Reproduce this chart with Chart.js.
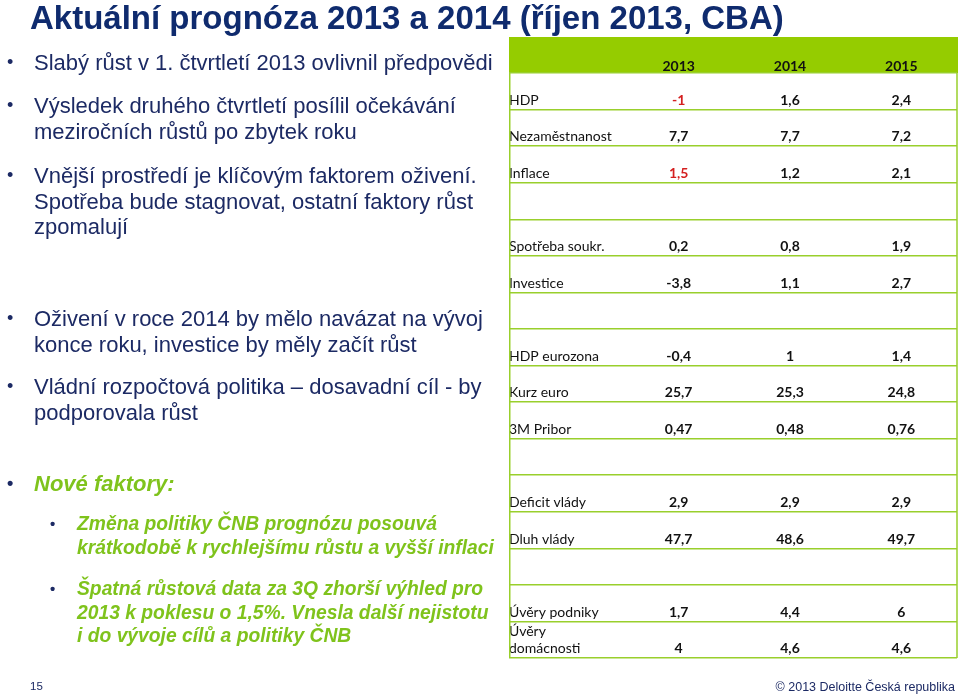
<!DOCTYPE html>
<html lang="cs">
<head>
<meta charset="utf-8">
<script src="https://cdn.jsdelivr.net/npm/chart.js@4"></script>
<style>
  html, body { margin: 0; padding: 0; background: #fff; }
  body { width: 960px; height: 694px; position: relative; overflow: hidden; font-family: "Liberation Sans", Arial, sans-serif; }
  #table { position: absolute; left: 0; top: 0; }
  .title { position: absolute; left: 30px; top: 1px; font-weight: bold; font-size: 33px; line-height: 33px; color: #0f2b6e; white-space: nowrap; }
  .p { position: absolute; left: 34px; font-size: 22px; line-height: 25.5px; color: #1c2a64; white-space: nowrap; }
  .p::before { content: '\2022'; position: absolute; left: -27px; font-size: 18px; font-style: normal; color: #1c2a64; }
  .g { color: #7fc31c; font-weight: bold; font-style: italic; }
  .sub { left: 77px; font-size: 19.3px; line-height: 23.5px; }
  .sub::before { left: -27px; color: #1c2a64; font-size: 15px; }
  .foot { position: absolute; top: 680px; font-size: 11.5px; color: #1c2a64; white-space: nowrap; }
</style>
</head>
<body>
<canvas id="table" width="960" height="694"></canvas>

<div class="title">Aktuální prognóza 2013 a 2014 (říjen 2013, CBA)</div>

<div class="p" style="top:50px">Slabý růst v 1. čtvrtletí 2013 ovlivnil předpovědi</div>
<div class="p" style="top:93px">Výsledek druhého čtvrtletí posílil očekávání<br>meziročních růstů po zbytek roku</div>
<div class="p" style="top:163px">Vnější prostředí je klíčovým faktorem oživení.<br>Spotřeba bude stagnovat, ostatní faktory růst<br>zpomalují</div>
<div class="p" style="top:306px">Oživení v roce 2014 by mělo navázat na vývoj<br>konce roku, investice by měly začít růst</div>
<div class="p" style="top:374px">Vládní rozpočtová politika – dosavadní cíl - by<br>podporovala růst</div>

<div class="p g" style="top:471px">Nové faktory:</div>
<div class="p g sub" style="top:512px">Změna politiky ČNB prognózu posouvá<br>krátkodobě k rychlejšímu růstu a vyšší inflaci</div>
<div class="p g sub" style="top:577px">Špatná růstová data za 3Q zhorší výhled pro<br>2013 k poklesu o 1,5%. Vnesla další nejistotu<br>i do vývoje cílů a politiky ČNB</div>

<div class="foot" style="left:30px">15</div>
<div class="foot" style="right:5px; font-size:12.5px">© 2013 Deloitte Česká republika</div>

<script>
// Forecast table (CBA, October 2013)
const years = ['2013', '2014', '2015'];
const rowLabels = [
  'HDP', 'Nezaměstnanost', 'Inflace', '',
  'Spotřeba soukr.', 'Investice', '',
  'HDP eurozona', 'Kurz euro', '3M Pribor', '',
  'Deficit vlády', 'Dluh vlády', '',
  'Úvěry podniky', ['Úvěry', 'domácnosti', '']
];
const values2013 = [-1, 7.7, 1.5, null, 0.2, -3.8, null, -0.4, 25.7, 0.47, null, 2.9, 47.7, null, 1.7, 4];
const values2014 = [1.6, 7.7, 1.2, null, 0.8, 1.1, null, 1, 25.3, 0.48, null, 2.9, 48.6, null, 4.4, 4.6];
const values2015 = [2.4, 7.2, 2.1, null, 1.9, 2.7, null, 1.4, 24.8, 0.76, null, 2.9, 49.7, null, 6, 4.6];
// cells printed in red (2013 column)
const redRows2013 = ['HDP', 'Inflace'];

const GREEN = '#99cf2c';
const HEADER_GREEN = '#95cc00';
const fontFamily = "Lato, 'Open Sans', sans-serif";

const columns = [values2013, values2014, values2015];

// Czech decimal comma
function fmt(v) {
  return String(v).replace('.', ',');
}

const tablePlugin = {
  id: 'tablePlugin',
  beforeDraw(chart) {
    const { ctx, chartArea, scales } = chart;
    ctx.save();
    ctx.fillStyle = HEADER_GREEN;
    ctx.fillRect(scales.y.left, scales.x.top, chartArea.right + 1 - scales.y.left, scales.x.bottom - scales.x.top);
    ctx.restore();
  },
  afterDatasetsDraw(chart) {
    const { ctx, chartArea, scales } = chart;
    ctx.save();
    ctx.textAlign = 'center';
    ctx.textBaseline = 'middle';
    ctx.font = `bold 14px ${fontFamily}`;
    chart.data.datasets.forEach((ds, i) => {
      chart.getDatasetMeta(i).data.forEach((pt, j) => {
        const cell = ds.data[j];
        if (cell.v == null) return;
        ctx.fillStyle = cell.red ? '#d41f1f' : '#111111';
        ctx.fillText(fmt(cell.v), pt.x, pt.y + 9);
      });
    });

    // outer vertical borders
    ctx.strokeStyle = GREEN;
    ctx.lineWidth = 1.5;
    ctx.beginPath();
    ctx.moveTo(scales.y.left + 0.75, chartArea.top);
    ctx.lineTo(scales.y.left + 0.75, chartArea.bottom);
    ctx.moveTo(chartArea.right, chartArea.top);
    ctx.lineTo(chartArea.right, chartArea.bottom);
    ctx.stroke();
    ctx.restore();
  }
};

new Chart(document.getElementById('table'), {
  type: 'line',
  data: {
    xLabels: years,
    yLabels: rowLabels,
    datasets: years.map((year, c) => ({
      label: year,
      showLine: false,
      pointRadius: 0,
      data: rowLabels.map((row, r) => ({
        x: year,
        y: row,
        v: columns[c][r],
        red: c === 0 && redRows2013.includes(row)
      }))
    }))
  },
  options: {
    responsive: false,
    animation: false,
    events: [],
    layout: { padding: { left: 509, top: 37, right: 3, bottom: 36 } },
    plugins: {
      legend: { display: false },
      tooltip: { enabled: false }
    },
    scales: {
      x: {
        type: 'category',
        position: 'top',
        offset: true,
        grid: { display: false, drawTicks: false },
        border: { display: false },
        ticks: { color: '#111111', padding: -2, font: { family: fontFamily, weight: 'bold', size: 14 } },
        afterFit: (scale) => { scale.height = 36; }
      },
      y: {
        type: 'category',
        position: 'left',
        offset: true,
        grid: { color: GREEN, lineWidth: 1.5, offset: true, drawTicks: true, tickLength: 114 },
        border: { display: false },
        ticks: {
          autoSkip: false,
          crossAlign: 'far',
          labelOffset: 9,
          padding: 0,
          color: '#111111',
          font: { family: fontFamily, size: 14, lineHeight: 1.25 }
        },
        afterFit: (scale) => { scale.width = 114; }
      }
    }
  },
  plugins: [tablePlugin]
});
</script>
</body>
</html>
